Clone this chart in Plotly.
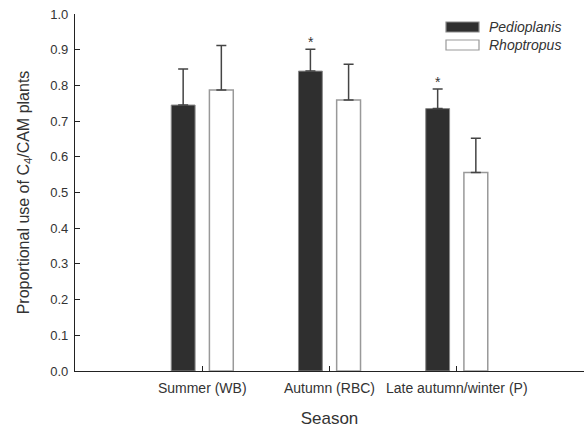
import plotly.graph_objects as go

categories = ["Summer (WB)", "Autumn (RBC)", "Late autumn/winter (P)"]
pedioplanis = [0.745, 0.840, 0.735]
pedioplanis_err = [0.101, 0.061, 0.055]
rhoptropus = [0.787, 0.759, 0.556]
rhoptropus_err = [0.125, 0.100, 0.096]
significant = [False, True, True]  # asterisk over Pedioplanis bar

W, H = 585, 428
ML, MR, MT, MB = 75, 1, 14, 57
FONT = "Liberation Sans, Arial, sans-serif"
TXT = "#333333"

fig = go.Figure()
fig.add_trace(go.Bar(
    name="Pedioplanis", x=categories, y=pedioplanis,
    marker=dict(color="#2f2f2f", line=dict(color="#8a8a8a", width=1)),
    error_y=dict(type="data", array=pedioplanis_err, arrayminus=[0]*3,
                 color="#444444", thickness=1.5, width=5),
))
fig.add_trace(go.Bar(
    name="Rhoptropus", x=categories, y=rhoptropus,
    marker=dict(color="#ffffff", line=dict(color="#999999", width=1.5)),
    error_y=dict(type="data", array=rhoptropus_err, arrayminus=[0]*3,
                 color="#444444", thickness=1.5, width=5),
))

# asterisks
for i, s in enumerate(significant):
    if s:
        fig.add_annotation(x=categories[i], y=pedioplanis[i] + pedioplanis_err[i],
                           xref="x", yref="y", text="*", showarrow=False,
                           xshift=-19, yanchor="bottom", yshift=-3,
                           font=dict(family=FONT, size=14, color=TXT))

# legend drawn manually
pw = W - ML - MR
ph = H - MT - MB
def px(x):
    return (x - ML) / pw
def py(y):
    return 1 - (y - MT) / ph

legend_items = [("Pedioplanis", "#2f2f2f", "#8a8a8a", 27), ("Rhoptropus", "#ffffff", "#999999", 45)]
for name, fill, line, yc in legend_items:
    fig.add_shape(type="rect", xref="paper", yref="paper",
                  x0=px(446), x1=px(479), y0=py(yc - 5), y1=py(yc + 5),
                  fillcolor=fill, line=dict(color=line, width=1.2))
    fig.add_annotation(xref="paper", yref="paper", x=px(487), y=py(yc),
                       text="<i>%s</i>" % name, showarrow=False,
                       xanchor="left", yanchor="middle",
                       font=dict(family=FONT, size=14, color=TXT))

fig.update_layout(
    width=W, height=H,
    margin=dict(l=ML, r=MR, t=MT, b=MB),
    paper_bgcolor="white", plot_bgcolor="white",
    barmode="group", bargap=0.4, bargroupgap=0.375,
    showlegend=False,
    font=dict(family=FONT, color=TXT),
)
fig.update_xaxes(
    range=[-1, 3], showline=True, linecolor="#222222", linewidth=1.2,
    ticks="inside", ticklen=5, tickcolor="#222222", tickwidth=1,
    tickfont=dict(size=14, color=TXT), showgrid=False, zeroline=False,
    title=dict(text="Season", font=dict(size=17, color=TXT), standoff=19),
    ticklabelstandoff=4,
)
fig.update_yaxes(
    range=[0, 1], dtick=0.1, tickformat=".1f", showline=True,
    linecolor="#222222", linewidth=1.2,
    ticks="inside", ticklen=5, tickcolor="#222222", tickwidth=1,
    tickfont=dict(size=13, color=TXT), showgrid=False, zeroline=False,
    title=dict(text="Proportional use of C<sub>4</sub>/CAM plants",
               font=dict(size=16, color=TXT), standoff=16),
    ticklabelstandoff=3,
)

fig.write_html("out.html")
